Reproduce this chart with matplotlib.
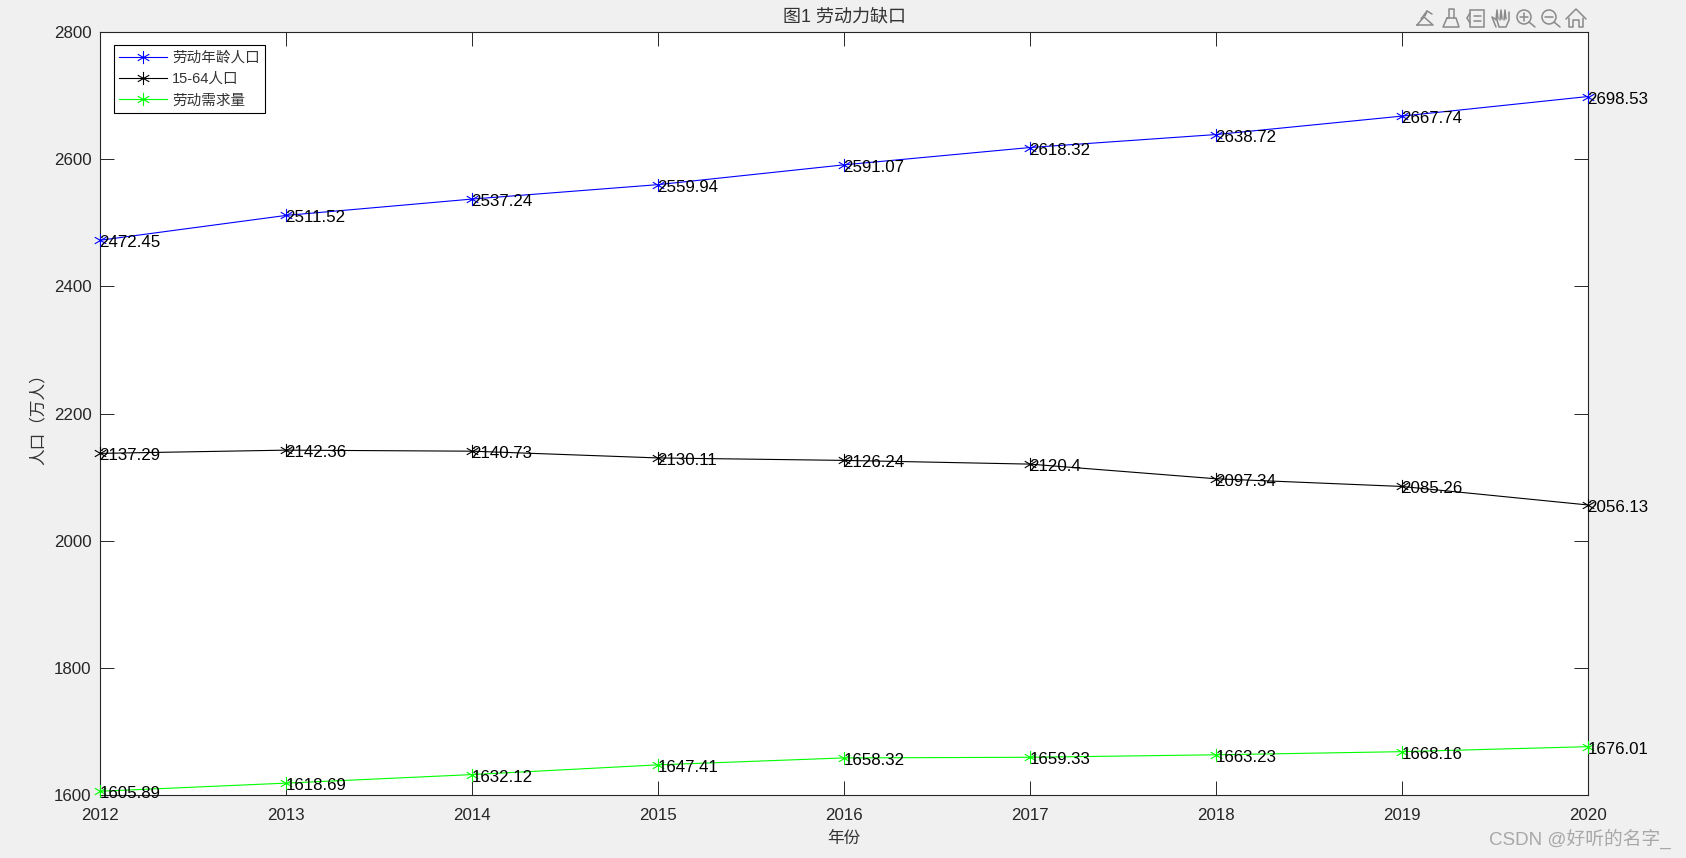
import numpy as np
import matplotlib
matplotlib.use("Agg")
import matplotlib.pyplot as plt
from matplotlib.patches import Circle, Rectangle
from matplotlib.path import Path

plt.rcParams['font.family'] = ['Liberation Sans', 'Noto Sans CJK SC', 'DejaVu Sans']

# Data
years = [2012, 2013, 2014, 2015, 2016, 2017, 2018, 2019, 2020]
working_age = [2472.45, 2511.52, 2537.24, 2559.94, 2591.07, 2618.32, 2638.72, 2667.74, 2698.53]
age_15_64 = [2137.29, 2142.36, 2140.73, 2130.11, 2126.24, 2120.4, 2097.34, 2085.26, 2056.13]
demand = [1605.89, 1618.69, 1632.12, 1647.41, 1658.32, 1659.33, 1663.23, 1668.16, 1676.01]
yticks = [1600, 1800, 2000, 2200, 2400, 2600, 2800]

W, H = 1686, 858
bg = '#f0f0f0'
dark = '#262626'

fig = plt.figure(figsize=(W / 100, H / 100), dpi=100, facecolor=bg)
ax = fig.add_axes([100 / W, 1 - 795 / H, 1488 / W, 763 / H])

# matlab style asterisk: three strokes through the centre
star = Path([(0, -1), (0, 1), (-0.87, -0.5), (0.87, 0.5), (-0.87, 0.5), (0.87, -0.5)],
            [Path.MOVETO, Path.LINETO] * 3)

series = [
    (working_age, '#0000ff', '劳动年龄人口'),
    (age_15_64, '#000000', '15-64人口'),
    (demand, '#00ff00', '劳动需求量'),
]
for values, color, label in series:
    ax.plot(years, values, color=color, lw=0.8, marker=star, ms=9.5, mew=0.8, mfc='none',
            label=label, clip_on=False, zorder=3)
    for x, y in zip(years, values):
        ax.annotate(f'{y:g}', (x, y), xytext=(-0.5, -1.8), textcoords='offset points',
                    fontsize=12.2, color='black', va='center', ha='left',
                    annotation_clip=False, zorder=4)

ax.set_xlim(2012, 2020)
ax.set_ylim(1600, 2800)
ax.set_xticks(years)
ax.set_yticks(yticks)
ax.tick_params(direction='in', length=10, width=0.7, color=dark, labelcolor=dark,
               labelsize=12.2, top=True, right=True)
ax.tick_params(axis='x', pad=9)
ax.tick_params(axis='y', pad=6)
for side in ax.spines.values():
    side.set_linewidth(0.8)
    side.set_color(dark)

fig.text(844 / W, 1 - 17.5 / H, '图1 劳动力缺口', fontsize=13, color='#333333', ha='center', va='center')
fig.text(844 / W, 1 - 838 / H, '年份', fontsize=12, color='#333333', ha='center', va='center')
fig.text(38 / W, 1 - 415 / H, '人口（万人）', fontsize=12, color='#333333', ha='center', va='center',
         rotation=90, family=['Noto Sans CJK TC', 'DejaVu Sans'])

leg = ax.legend(loc='upper left', bbox_to_anchor=(13.5 / 1488, 1 - 13 / 763), borderaxespad=0,
                fontsize=10.5, fancybox=False, framealpha=1, edgecolor='black',
                handlelength=3.3, handletextpad=0.3, labelspacing=0.5, borderpad=0.4)
leg.get_frame().set_linewidth(0.8)
for text in leg.get_texts():
    text.set_color('#333333')

# Watermark
fig.text(1489 / W, 1 - 839 / H, 'CSDN @好听的名字_', fontsize=13.5, color='#a8a8a8', ha='left', va='center')

# Figure toolbar icons, drawn in pixel coordinates
tb = fig.add_axes([0, 0, 1, 1], facecolor='none')
tb.set_xlim(0, W)
tb.set_ylim(H, 0)
tb.axis('off')
grey = '#8a8a8a'


def stroke(xs, ys):
    tb.plot(xs, ys, color=grey, lw=1.1, solid_capstyle='round')


# edit arrow
stroke([1417, 1424, 1433, 1417], [25, 17, 25, 25])
stroke([1421, 1427, 1425], [19, 11, 16])
stroke([1427, 1432], [11, 14])
# brush
stroke([1449, 1449, 1454, 1454], [18, 9, 9, 18])
stroke([1447, 1456, 1459, 1443, 1447], [18, 18, 27, 27, 18])
# legend
tb.add_patch(Rectangle((1470, 10), 14, 17, fill=False, ec=grey, lw=1.1))
stroke([1467, 1470], [18, 13])
stroke([1467, 1470], [18, 23])
stroke([1474, 1481], [16, 16])
stroke([1474, 1481], [21, 21])
# hand
stroke([1496, 1492, 1497, 1499, 1506, 1509, 1509], [27, 17, 20, 27, 27, 20, 12])
for x0 in (1496, 1500, 1504):
    stroke([x0, x0 + 1, x0 + 2], [20, 10, 19])
# zoom in and out
for cx, minus_only in ((1524, False), (1549, True)):
    tb.add_patch(Circle((cx, 17), 7, fill=False, ec=grey, lw=1.1))
    stroke([cx + 5, cx + 11], [22, 27])
    stroke([cx - 4, cx + 4], [17, 17])
    if not minus_only:
        stroke([cx, cx], [13, 21])
# home
stroke([1566, 1576, 1586], [19, 9, 19])
stroke([1569, 1569, 1573, 1573, 1579, 1579, 1583, 1583], [18, 27, 27, 20, 20, 27, 27, 18])

fig.savefig('out.png', dpi=100, facecolor=bg)
